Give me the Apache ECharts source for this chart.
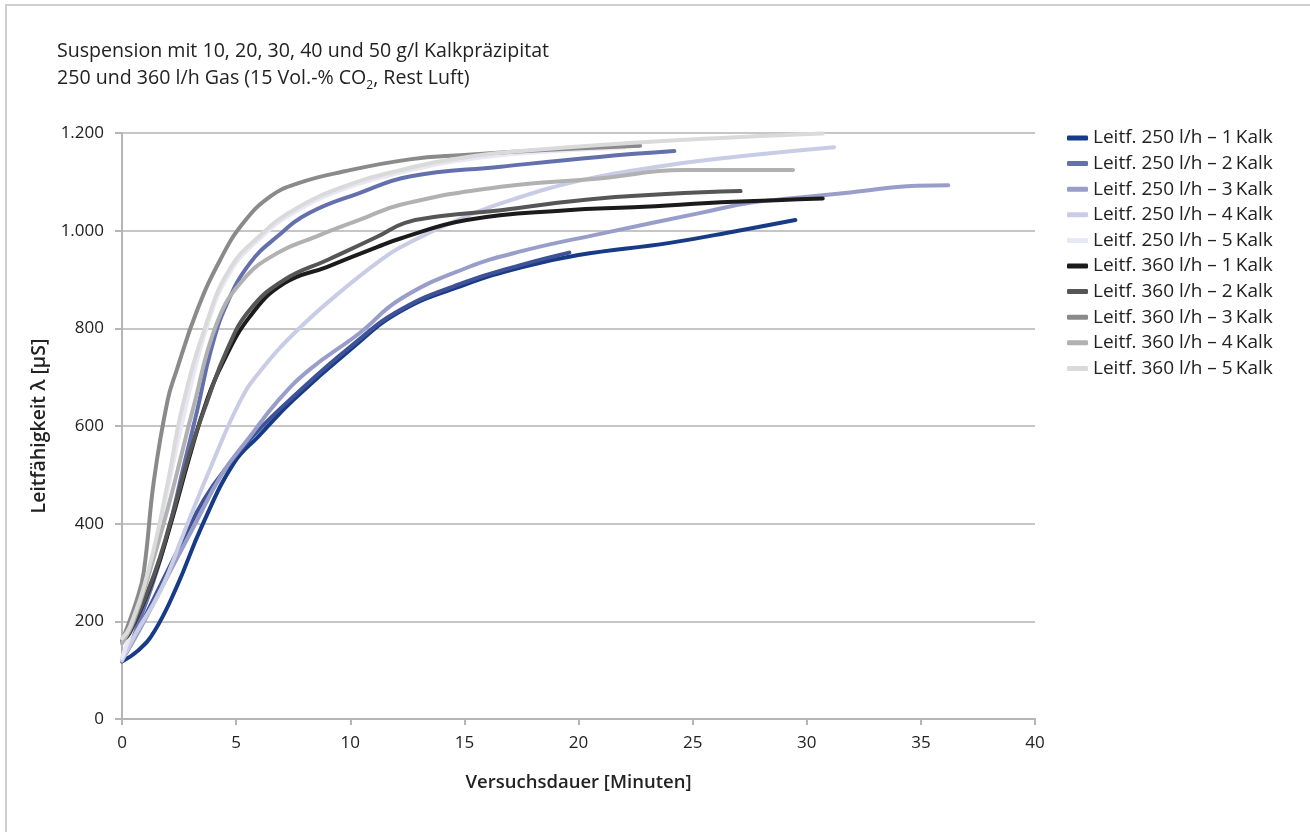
<!DOCTYPE html>
<html>
<head>
<meta charset="utf-8">
<script src="https://cdn.jsdelivr.net/npm/echarts@6/dist/echarts.min.js"></script>
<style>
html,body{margin:0;padding:0;background:#fff;}
#chart{width:1310px;height:832px;}
</style>
</head>
<body>
<div id="chart"></div>
<script>
// ---- data (time [min], conductivity [µS]) ----
const names = [
  'Leitf. 250 l/h \u2013 1\u2009Kalk','Leitf. 250 l/h \u2013 2\u2009Kalk','Leitf. 250 l/h \u2013 3\u2009Kalk',
  'Leitf. 250 l/h \u2013 4\u2009Kalk','Leitf. 250 l/h \u2013 5\u2009Kalk','Leitf. 360 l/h \u2013 1\u2009Kalk',
  'Leitf. 360 l/h \u2013 2\u2009Kalk','Leitf. 360 l/h \u2013 3\u2009Kalk','Leitf. 360 l/h \u2013 4\u2009Kalk',
  'Leitf. 360 l/h \u2013 5\u2009Kalk'
];
const colors = ['#173b86','#6470ad','#989ec9','#c9cce5','#e7e8f3','#1b1b1b','#565656','#8a8a8a','#b1b1b1','#dadada'];

const s250_1 = [[0,118],[0.7,140],[1.4,178],[2.4,271],[3.5,395],[4.9,524],[6,580],[7.5,653],[10,756],[12.2,835],[15,889],[17.5,925],[20,950],[24,975],[27,1000],[29.5,1022]];
const s250_1b = [[0,120],[0.9,200],[1.8,285],[2.6,360],[3.6,450],[4.7,522],[5.8,583],[7.5,660],[10,762],[12.2,838],[15,894],[17.5,930],[19.6,955]];
const s250_2 = [[0,120],[1.1,244],[2,380],[2.7,517],[3.3,633],[3.9,756],[4.6,851],[5.6,933],[6.8,988],[8.2,1036],[10.4,1077],[12.6,1111],[16.6,1131],[20.9,1151],[24.2,1163]];
const s250_3 = [[0,120],[0.8,185],[1.8,275],[3.1,390],[4.4,503],[5.6,578],[6.8,650],[8.2,715],[10.4,790],[12.2,860],[15,922],[17.5,958],[21,994],[25.3,1036],[27.5,1057],[29.7,1068],[31.9,1078],[34.8,1092],[36.2,1093]];
const s250_4 = [[0,120],[0.6,175],[1.7,264],[2.7,380],[3.9,517],[5.2,653],[6.1,715],[7.7,797],[9.7,880],[11.4,942],[12.2,966],[14.4,1016],[16.6,1056],[20.2,1104],[23.9,1134],[26.8,1151],[31.2,1171]];
const s250_5 = [[0,125],[1.2,300],[2,470],[2.7,620],[3.7,800],[4.7,912],[6,982],[7.5,1036],[9.7,1085],[12.2,1119],[15,1145],[18,1160],[22,1170]];
const s360_1 = [[0,160],[0.35,178],[1.4,291],[2.1,394],[3,544],[3.7,650],[4.4,728],[5.6,824],[7.1,892],[9,926],[11.2,967],[12.2,984],[15.1,1022],[19.5,1042],[22.4,1048],[26.8,1059],[30.7,1066]];
const s360_2 = [[0,160],[0.35,180],[1.4,295],[2.1,400],[3,550],[3.7,646],[4.6,756],[5.6,838],[7.1,899],[9,940],[11.2,988],[12.4,1016],[14,1030],[16.6,1042],[20.9,1066],[27.1,1081]];
const s360_3 = [[0,160],[0.65,244],[0.95,300],[1.4,489],[2,653],[2.4,715],[3.3,838],[4.3,940],[5.3,1015],[6.5,1070],[7.7,1097],[9.7,1121],[12.6,1146],[15,1155],[18.5,1165],[22.7,1174]];
const s360_4 = [[0,155],[0.5,200],[1.2,300],[2,430],[2.6,540],[3.1,633],[4.15,810],[5.3,899],[6.8,954],[8.5,988],[10.4,1022],[12.2,1053],[16.6,1090],[20.9,1107],[24.6,1124],[29.4,1124]];
const s360_5 = [[0,165],[0.35,189],[1.2,312],[2,483],[2.65,640],[3.7,810],[4.7,920],[6,988],[7.5,1042],[9.7,1090],[12.2,1124],[15,1150],[18,1165],[23.9,1184],[30.7,1199]];

const xTicks = {min:0, max:40, interval:5};
const yTicks = {min:0, max:1200, interval:200};

const seriesData = [s250_1, s250_2, s250_3, s250_4, s250_5, s360_1, s360_2, s360_3, s360_4, s360_5];

const FONT = 'Open Sans';
const chart = echarts.init(document.getElementById('chart'), null, {renderer:'canvas'});

function mk(name, data, color, z) {
  return {
    name: name, type: 'line', data: data, showSymbol: false, symbol: 'none',
    smooth: 0.45, z: z,
    lineStyle: {color: color, width: 4, cap: 'round', join: 'round'},
    itemStyle: {color: color},
    emphasis: {disabled: true}
  };
}
const series = [];
series.push(mk(names[0], s250_1, colors[0], 2));
series.push(mk('_b', s250_1b, '#3f5298', 3));
for (let i = 1; i < 10; i++) series.push(mk(names[i], seriesData[i], colors[i], 3 + i));

chart.setOption({
  animation: false,
  backgroundColor: '#fff',
  textStyle: {fontFamily: FONT},
  graphic: [{
    type: 'rect', silent: true, z: -10,
    shape: {x: 6, y: 5, width: 1400, height: 900},
    style: {fill: 'none', stroke: '#cfcfcf', lineWidth: 2}
  }],
  title: {
    left: 52, top: 33,
    text: 'Suspension mit 10, 20, 30, 40 und 50 g/l Kalkpräzipitat\n250 und 360 l/h Gas (15 Vol.-% CO{sub|2}, Rest Luft)',
    textStyle: {
      fontFamily: FONT, fontSize: 19.6, fontWeight: 'normal', color: '#222', lineHeight: 27,
      rich: {sub: {fontFamily: FONT, fontSize: 12, color: '#222', lineHeight: 14, verticalAlign: 'bottom'}}
    }
  },
  legend: {
    orient: 'vertical', left: 1062, top: 123,
    data: names,
    icon: 'roundRect', itemWidth: 21, itemHeight: 5, itemGap: 5.6,
    textStyle: {fontFamily: FONT, fontSize: 19, color: '#222', lineHeight: 20},
    selectedMode: false
  },
  grid: {left: 122, right: 275, top: 133, bottom: 113, containLabel: false},
  xAxis: {
    type: 'value', min: xTicks.min, max: xTicks.max, interval: xTicks.interval,
    name: 'Versuchsdauer [Minuten]', nameLocation: 'middle', nameGap: 54,
    nameTextStyle: {fontFamily: FONT, fontSize: 18.5, fontWeight: 600, color: '#222'},
    axisLine: {show: true, lineStyle: {color: '#b5b5b5', width: 2}},
    axisTick: {show: true, length: 6, lineStyle: {color: '#b5b5b5', width: 2}},
    axisLabel: {margin: 16, fontFamily: FONT, fontSize: 17, color: '#222'},
    splitLine: {show: false}
  },
  yAxis: {
    type: 'value', min: yTicks.min, max: yTicks.max, interval: yTicks.interval,
    name: 'Leitfähigkeit \u03bb [µS]', nameLocation: 'middle', nameGap: 70, nameRotate: 90,
    nameTextStyle: {fontFamily: FONT, fontSize: 19.5, fontWeight: 600, color: '#222'},
    axisLine: {show: true, lineStyle: {color: '#b5b5b5', width: 2}},
    axisTick: {show: true, length: 7, lineStyle: {color: '#b5b5b5', width: 2}},
    axisLabel: {margin: 18, fontFamily: FONT, fontSize: 17, color: '#222',
      formatter: v => String(v).replace(/\B(?=(\d{3})+(?!\d))/g, '.')},
    splitLine: {show: true, lineStyle: {color: '#c6c6c6', width: 2}}
  },
  series: series
});
</script>
</body>
</html>
